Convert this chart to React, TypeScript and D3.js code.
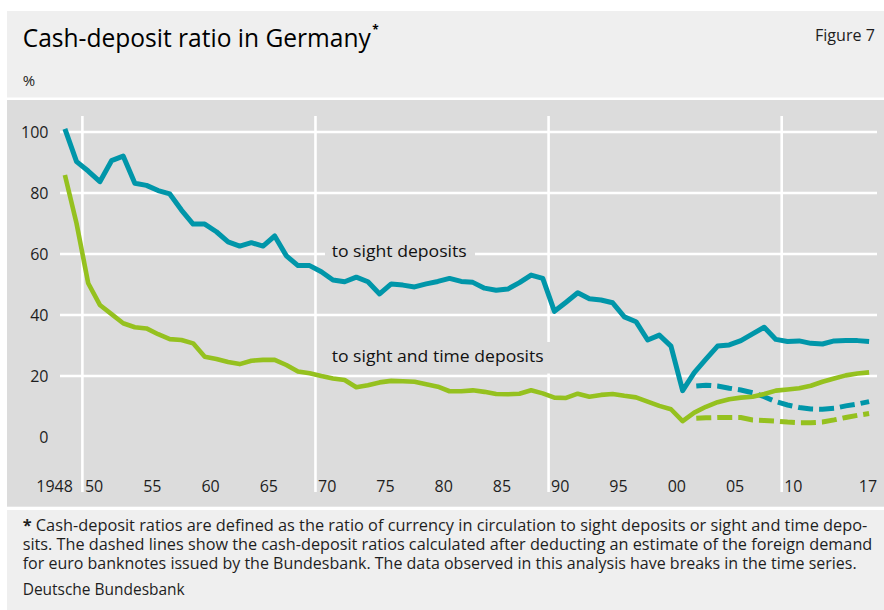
import React from "react";
import * as d3 from "d3";

const startYear = 1948;
const sightDeposits = [
  101, 90.3, 87.2, 83.7, 90.6, 92.1, 83.2, 82.5, 80.8, 79.7,
  74.4, 69.8, 69.8, 67.3, 64, 62.6, 63.7, 62.6, 65.9, 59.4,
  56.2, 56.2, 54.2, 51.5, 50.9, 52.4, 50.9, 46.9, 50.2, 49.8,
  49.2, 50.2, 51, 52, 51, 50.7, 48.8, 48.1, 48.5, 50.6,
  53.1, 52, 41.2, 44.2, 47.3, 45.3, 44.9, 44, 39.4, 37.8,
  31.8, 33.4, 29.8, 15.2, 21.1, 25.5, 29.8, 30.2, 31.6, 33.8,
  36, 32, 31.3, 31.5, 30.7, 30.5, 31.5, 31.6, 31.6, 31.3,
];
const sightTimeDeposits = [
  85.9, 70, 50.4, 43.3, 40.3, 37.3, 36, 35.6, 33.7, 32.1,
  31.8, 30.7, 26.3, 25.6, 24.6, 23.9, 25, 25.3, 25.3, 23.6,
  21.5, 20.9, 20, 19.2, 18.7, 16.3, 17, 17.9, 18.4, 18.3,
  18.1, 17.3, 16.5, 15, 15, 15.3, 14.8, 14.1, 14, 14.2,
  15.3, 14.3, 12.9, 12.8, 14.2, 13.2, 13.8, 14.1, 13.5, 13,
  11.6, 10.2, 9.1, 5.2, 8, 9.9, 11.4, 12.4, 12.9, 13.2,
  14.1, 15.2, 15.6, 16, 16.8, 18.1, 19.2, 20.2, 20.8, 21.2,
];
const dashedStartYear = 2002;
const sightDepositsAdj = [16.7, 17.0, 16.7, 16.0, 15.4, 14.5, 13.2, 11.6, 10.5, 9.7, 9.2, 9.1, 9.4, 10.2, 10.8, 11.6];
const sightTimeDepositsAdj = [6.1, 6.3, 6.4, 6.4, 6.4, 5.6, 5.4, 5.2, 4.9, 4.7, 4.7, 4.9, 5.6, 6.4, 7.1, 7.7];

const yTicks = [0, 20, 40, 60, 80, 100];
const yGridTicks = [20, 40, 60, 80, 100];
const xTickYears = [1950, 1955, 1960, 1965, 1970, 1975, 1980, 1985, 1990, 1995, 2000, 2005, 2010];
const xTickLabels = ["50", "55", "60", "65", "70", "75", "80", "85", "90", "95", "00", "05", "10"];
const xGridYears = [1949.5, 1969.5, 1989.5, 2009.5];

const TEAL = "#0096a9";
const GREEN = "#95c11f";
const FONT = "'Open Sans', 'Noto Sans', sans-serif";
const TEXT = "#1e1e1e";

type Pt = { year: number; v: number };
const toPts = (arr: number[], start: number): Pt[] => arr.map((v, i) => ({ year: start + i, v }));

export default function App() {
  const x = d3.scaleLinear().domain([1948, 2017]).range([64.9, 869.1]);
  const y = d3.scaleLinear().domain([0, 100]).range([437, 132]);
  const line = d3
    .line<Pt>()
    .x((d) => x(d.year))
    .y((d) => y(d.v));

  const sight = toPts(sightDeposits, startYear);
  const sightTime = toPts(sightTimeDeposits, startYear);
  const sightAdj = toPts(sightDepositsAdj, dashedStartYear);
  const sightTimeAdj = toPts(sightTimeDepositsAdj, dashedStartYear);

  return (
    <svg
      width={884}
      height={610}
      viewBox="0 0 884 610"
      style={{ position: "absolute", left: 0, top: 0, display: "block", background: "#fff" }}
      fontFamily={FONT}
    >
      {/* panels */}
      <rect x={7} y={11} width={877} height={86.5} fill="#efefef" />
      <rect x={7} y={100} width={877} height={406.7} fill="#dcdcdc" />
      <rect x={7} y={510} width={877} height={100} fill="#efefef" />

      {/* title */}
      <text x={22.7} y={46.7} fontSize={25} fill="#000" textLength={356} lengthAdjust="spacingAndGlyphs">
        Cash-deposit ratio in Germany
        <tspan dx={1.5} dy={-12.5} fontSize={12} fontWeight="bold">*</tspan>
      </text>
      <text x={875} y={40.7} fontSize={17} fill={TEXT} textAnchor="end" textLength={60} lengthAdjust="spacingAndGlyphs">
        Figure 7
      </text>
      <text x={22.7} y={86} fontSize={15} fill={TEXT}>%</text>

      {/* grid */}
      {yGridTicks.map((t) => (
        <line key={"h" + t} x1={60} x2={877} y1={y(t)} y2={y(t)} stroke="#fff" strokeWidth={2.6} />
      ))}
      {xGridYears.map((g) => (
        <line key={"v" + g} x1={x(g)} x2={x(g)} y1={116} y2={492} stroke="#fff" strokeWidth={2.6} />
      ))}

      {/* y tick labels */}
      {yTicks.map((t) => (
        <text key={"yl" + t} x={48.5} y={y(t)} dy="0.36em" fontSize={16} fill={TEXT} textAnchor="end">
          {t}
        </text>
      ))}

      {/* x tick labels */}
      <text x={x(1948) + 8} y={492} fontSize={16} fill={TEXT} textAnchor="end">1948</text>
      {xTickYears.map((yr, i) => (
        <text key={"xl" + yr} x={x(yr + 0.5)} y={492} fontSize={16} fill={TEXT} textAnchor="middle">
          {xTickLabels[i]}
        </text>
      ))}
      <text x={x(2017) + 8} y={492} fontSize={16} fill={TEXT} textAnchor="end">17</text>

      {/* series labels with background */}
      <rect x={325} y={243} width={150} height={20} fill="#dcdcdc" />
      <text x={331.7} y={256.7} fontSize={16.5} fill="#111" textLength={135} lengthAdjust="spacingAndGlyphs">
        to sight deposits
      </text>
      <rect x={325} y={342} width={228} height={31.5} fill="#dcdcdc" />
      <text x={331.7} y={361.7} fontSize={16.5} fill="#111" textLength={212} lengthAdjust="spacingAndGlyphs">
        to sight and time deposits
      </text>

      {/* lines */}
      <path d={line(sightTimeAdj) || ""} fill="none" stroke={GREEN} strokeWidth={5} strokeDasharray="15,6" strokeDashoffset={-2} />
      <path d={line(sightAdj) || ""} fill="none" stroke={TEAL} strokeWidth={5} strokeDasharray="15,6" strokeDashoffset={-2} />
      <path d={line(sightTime) || ""} fill="none" stroke={GREEN} strokeWidth={4.6} strokeLinejoin="round" />
      <path d={line(sight) || ""} fill="none" stroke={TEAL} strokeWidth={5} strokeLinejoin="round" />

      {/* footnote */}
      <text x={22.7} y={531} fontSize={16} fill={TEXT} textLength={844.6} lengthAdjust="spacingAndGlyphs">
        <tspan fontWeight="bold">*</tspan> Cash-deposit ratios are defined as the ratio of currency in circulation to sight deposits or sight and time depo-
      </text>
      <text x={22.7} y={550} fontSize={16} fill={TEXT} textLength={849.6} lengthAdjust="spacingAndGlyphs">
        sits. The dashed lines show the cash-deposit ratios calculated after deducting an estimate of the foreign demand
      </text>
      <text x={22.7} y={569} fontSize={16} fill={TEXT} textLength={834} lengthAdjust="spacingAndGlyphs">
        for euro banknotes issued by the Bundesbank. The data observed in this analysis have breaks in the time series.
      </text>
      <text x={22.7} y={595} fontSize={16} fill={TEXT} textLength={162} lengthAdjust="spacingAndGlyphs">
        Deutsche Bundesbank
      </text>
    </svg>
  );
}
